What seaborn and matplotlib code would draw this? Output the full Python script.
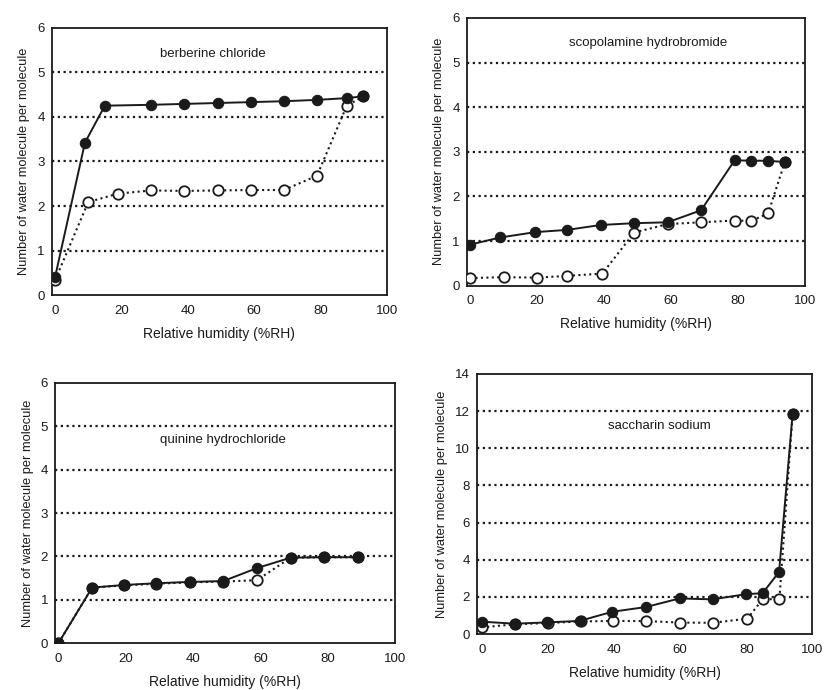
import pandas as pd
import matplotlib.pyplot as plt
import seaborn as sns

# Water sorption isotherms: adsorption (filled) and desorption (open)
berb_ads_rh = [0, 9, 15, 29, 39, 49, 59, 69, 79, 88, 93]
berb_ads = [0.41, 3.42, 4.25, 4.27, 4.29, 4.31, 4.33, 4.35, 4.38, 4.42, 4.46]
berb_des_rh = [0, 10, 19, 29, 39, 49, 59, 69, 79, 88, 93]
berb_des = [0.34, 2.09, 2.28, 2.35, 2.34, 2.35, 2.36, 2.36, 2.68, 4.25, 4.46]

scop_ads_rh = [0, 9, 19.5, 29, 39, 49, 59, 69, 79, 84, 89, 94]
scop_ads = [0.92, 1.08, 1.2, 1.25, 1.36, 1.4, 1.42, 1.69, 2.81, 2.8, 2.8, 2.77]
scop_des_rh = [0, 10, 20, 29, 39.5, 49, 59, 69, 79, 84, 89, 94]
scop_des = [0.17, 0.19, 0.18, 0.22, 0.27, 1.19, 1.38, 1.42, 1.46, 1.45, 1.62, 2.77]

quin_ads_rh = [0, 10, 19.5, 29, 39, 49, 59, 69, 79, 89]
quin_ads = [0, 1.28, 1.34, 1.38, 1.41, 1.43, 1.73, 1.97, 1.98, 1.98]
quin_des_rh = [0, 10, 19.5, 29, 39, 49, 59, 69, 79, 89]
quin_des = [0, 1.28, 1.33, 1.37, 1.40, 1.42, 1.45, 1.97, 1.98, 1.98]

sacc_ads_rh = [0, 10, 19.6, 29.6, 39.4, 49.7, 59.8, 69.8, 79.9, 84.9, 89.9, 94]
sacc_ads = [0.67, 0.56, 0.63, 0.71, 1.2, 1.46, 1.92, 1.87, 2.15, 2.2, 3.34, 11.85]
sacc_des_rh = [0, 10, 20, 30, 39.7, 49.8, 59.8, 69.8, 80.3, 85, 90, 94]
sacc_des = [0.36, 0.53, 0.6, 0.68, 0.71, 0.70, 0.62, 0.61, 0.83, 1.89, 1.87, 11.85]

panels = [
    ('berberine chloride', berb_ads_rh, berb_ads, berb_des_rh, berb_des,
     [0.062, 0.572, 0.401, 0.388], (0.48, 0.90), 6, 1, (-1, 100)),
    ('scopolamine hydrobromide', scop_ads_rh, scop_ads, scop_des_rh, scop_des,
     [0.559, 0.586, 0.405, 0.388], (0.535, 0.907), 6, 1, (-1, 100)),
    ('quinine hydrochloride', quin_ads_rh, quin_ads, quin_des_rh, quin_des,
     [0.066, 0.068, 0.407, 0.377], (0.494, 0.78), 6, 1, (-1, 100)),
    ('saccharin sodium', sacc_ads_rh, sacc_ads, sacc_des_rh, sacc_des,
     [0.571, 0.081, 0.402, 0.377], (0.545, 0.80), 14, 2, (-1.5, 100)),
]

sns.set_theme(style='white')
plt.rcParams['font.family'] = ['Liberation Sans', 'DejaVu Sans']
plt.rcParams['axes.edgecolor'] = '#1a1a1a'
plt.rcParams['axes.linewidth'] = 1.3

ink = '#1a1a1a'
dots = (0, (1, 1.6))
fig = plt.figure(figsize=(8.35, 6.9), dpi=100)

for name, a_rh, a_val, d_rh, d_val, rect, txt, ymax, ystep, xlim in panels:
    ax = fig.add_axes(rect)
    ads = pd.DataFrame({'RH': a_rh, 'n': a_val})
    des = pd.DataFrame({'RH': d_rh, 'n': d_val})

    # horizontal dotted grid
    for yv in range(ystep, ymax, ystep):
        ax.axhline(yv, color=ink, lw=1.6, ls=dots, zorder=1)

    sns.lineplot(data=des, x='RH', y='n', ax=ax, sort=False, estimator=None,
                 color=ink, lw=1.5, linestyle=dots, marker='o', markersize=7.5,
                 markerfacecolor='white', markeredgecolor=ink, markeredgewidth=1.3,
                 zorder=3)
    sns.lineplot(data=ads, x='RH', y='n', ax=ax, sort=False, estimator=None,
                 color=ink, lw=1.4, marker='o', markersize=7.5,
                 markerfacecolor=ink, markeredgecolor=ink, zorder=4)

    ax.set_xlim(*xlim)
    ax.set_ylim(0, ymax)
    ax.set_xticks(range(0, 101, 20))
    ax.set_yticks(range(0, ymax + 1, ystep))
    ax.tick_params(axis='both', direction='in', length=3, width=1, colors=ink,
                   labelsize=9.5, labelcolor=ink)
    ax.tick_params(axis='x', pad=7)
    ax.tick_params(axis='y', pad=5)
    ax.set_xlabel('Relative humidity (%RH)', fontsize=10, color=ink, labelpad=7)
    ax.set_ylabel('Number of water molecule per molecule', fontsize=9.3, color=ink, labelpad=5)
    ax.text(txt[0], txt[1], name, transform=ax.transAxes, ha='center', va='center',
            fontsize=9.5, color=ink)
    for s in ax.spines.values():
        s.set_visible(True)

plt.savefig('out.png', dpi=100)
plt.close()
